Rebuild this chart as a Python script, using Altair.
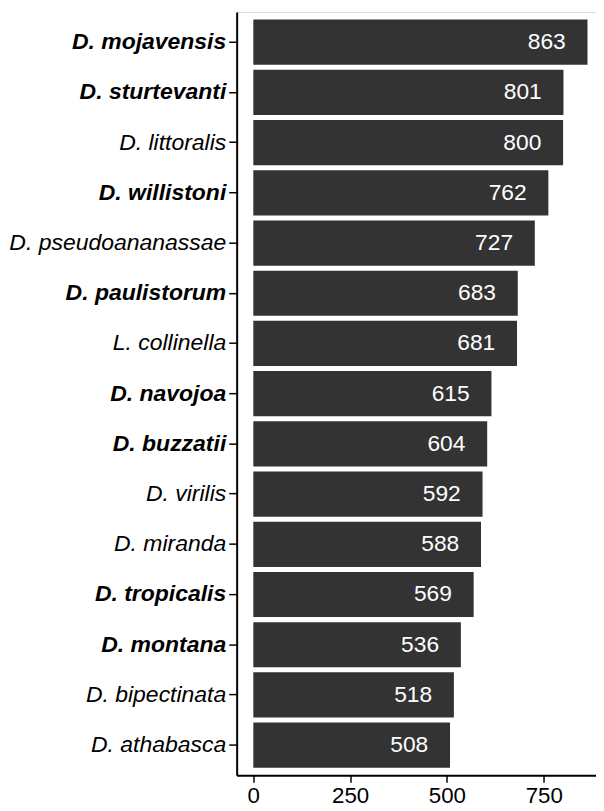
import altair as alt
import pandas as pd

species = ["D. mojavensis", "D. sturtevanti", "D. littoralis", "D. willistoni",
           "D. pseudoananassae", "D. paulistorum", "L. collinella", "D. navojoa",
           "D. buzzatii", "D. virilis", "D. miranda", "D. tropicalis",
           "D. montana", "D. bipectinata", "D. athabasca"]
counts = [863, 801, 800, 762, 727, 683, 681, 615, 604, 592, 588, 569, 536, 518, 508]
bold = [True, True, False, True, False, True, False, True, True, False, False, True, True, False, False]

df = pd.DataFrame({"species": species, "count": counts})
bold_names = [s for s, b in zip(species, bold) if b]
bold_test = "indexof([" + ",".join("'" + s + "'" for s in bold_names) + "], datum.value) >= 0"

FONT = "Liberation Sans"

y = alt.Y("species:N", sort=species, title=None,
          scale=alt.Scale(paddingInner=0.1, paddingOuter=0.15),
          axis=alt.Axis(labelFontSize=23.2, labelFontStyle="italic",
                        labelFontWeight={"condition": {"test": bold_test, "value": "bold"}, "value": "normal"},
                        labelColor="black", labelFont=FONT, labelPadding=3, labelLimit=400,
                        tickSize=8, tickColor="black", tickWidth=1.5,
                        domainColor="black", domainWidth=2, grid=False))
x = alt.X("count:Q", title=None,
          scale=alt.Scale(domain=[-43, 885], nice=False, zero=False),
          axis=alt.Axis(values=[0, 250, 500, 750], labelFontSize=22.5, labelColor="black",
                        labelFont=FONT, labelPadding=3, tickSize=7, tickColor="black",
                        tickWidth=1.5, domainColor="black", domainWidth=2, grid=False,
                        labelFlush=False))

base = alt.Chart(df)
bars = base.mark_bar(color="#333333").encode(x=x, x2=alt.datum(0), y=y)
text = base.mark_text(align="right", dx=-22, color="white", fontSize=23, font=FONT).encode(
    x="count:Q", y=alt.Y("species:N", sort=species), text="count:Q")

chart = (bars + text).properties(width=363, height=771, padding=0).configure_view(stroke=None).configure(
    background="white")

chart.save("out.html", embed_options={"renderer": "svg", "actions": False})
